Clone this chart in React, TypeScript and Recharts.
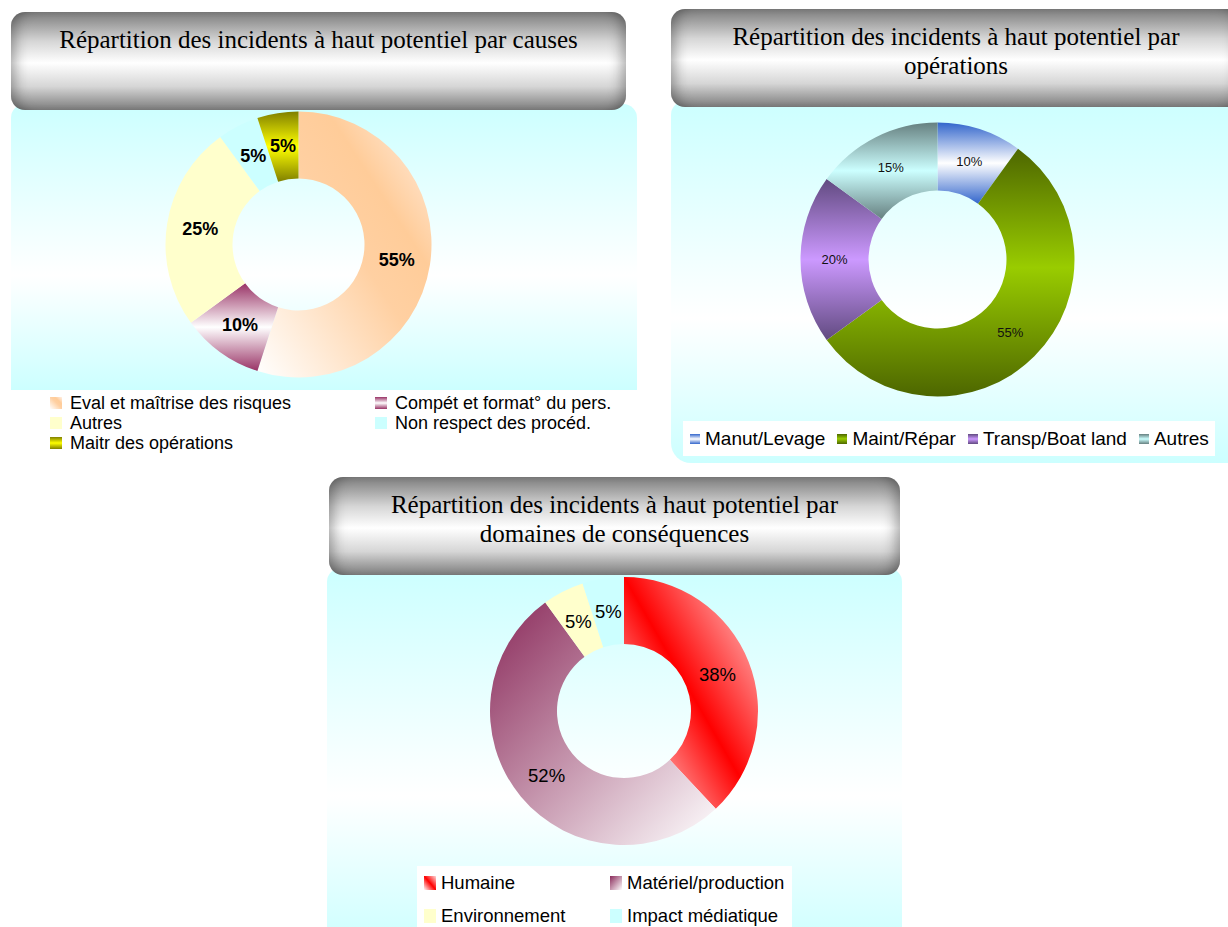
import React from "react";
import { Cell, Pie, PieChart } from "recharts";

// chart 1 : causes
const causeNames = [
  "Eval et maîtrise des risques",
  "Compét et format° du pers.",
  "Autres",
  "Non respect des procéd.",
  "Maitr des opérations",
];
const causeValues = [55, 10, 25, 5, 5];

// chart 2 : opérations
const operationNames = ["Manut/Levage", "Maint/Répar", "Transp/Boat land", "Autres"];
const operationValues = [10, 55, 20, 15];

// chart 3 : domaines de conséquences
const domainNames = ["Humaine", "Matériel/production", "Environnement", "Impact médiatique"];
const domainValues = [38, 52, 5, 5];

const causeFills = ["url(#gEval)", "url(#gCompet)", "#FFFFCC", "#CCFFFF", "url(#gMaitr)"];
const operationFills = ["url(#gManut)", "url(#gMaint)", "url(#gTransp)", "url(#gAutresOp)"];
const domainFills = ["url(#gHumaine)", "url(#gMateriel)", "#FFFFCC", "#CCFFFF"];

const RAD = Math.PI / 180;
const sans = '"Liberation Sans", Arial, sans-serif';
const serif = '"Liberation Serif", "Times New Roman", serif';

const toRows = (names: string[], values: number[]) =>
  names.map((name, i) => ({ name, value: values[i] }));

const ringLabel = (fontSize: number, fontWeight: number, color: string) => (props: any) => {
  const { cx, cy, midAngle, innerRadius, outerRadius, value } = props;
  const r = (innerRadius + outerRadius) / 2;
  return (
    <text
      x={cx + r * Math.cos(-midAngle * RAD)}
      y={cy + r * Math.sin(-midAngle * RAD)}
      textAnchor="middle"
      dominantBaseline="central"
      fontFamily={sans}
      fontSize={fontSize}
      fontWeight={fontWeight}
      fill={color}
    >
      {value}%
    </text>
  );
};

const Gradients = () => (
  <svg width={0} height={0} style={{ position: "absolute" }}>
    <defs>
      <linearGradient id="gEval" x1="1" y1="0" x2="0" y2="1">
        <stop offset="0" stopColor="#FFF1E8" />
        <stop offset="0.3" stopColor="#FFCC99" />
        <stop offset="0.48" stopColor="#FFD0A2" />
        <stop offset="1" stopColor="#FFFFFF" />
      </linearGradient>
      <linearGradient id="gCompet" x1="0" y1="0" x2="0" y2="1">
        <stop offset="0" stopColor="#993366" />
        <stop offset="0.5" stopColor="#FFFFFF" />
        <stop offset="1" stopColor="#993366" />
      </linearGradient>
      <linearGradient id="gMaitr" x1="0" y1="0" x2="0" y2="1">
        <stop offset="0" stopColor="#808000" />
        <stop offset="0.5" stopColor="#FFFF00" />
        <stop offset="1" stopColor="#808000" />
      </linearGradient>
      <linearGradient id="gManut" x1="0" y1="0" x2="0" y2="1">
        <stop offset="0" stopColor="#3366CC" />
        <stop offset="0.5" stopColor="#FFFFFF" />
        <stop offset="1" stopColor="#3366CC" />
      </linearGradient>
      <linearGradient id="gMaint" x1="0" y1="0" x2="0" y2="1">
        <stop offset="0" stopColor="#4D6600" />
        <stop offset="0.48" stopColor="#99CC00" />
        <stop offset="1" stopColor="#4D6600" />
      </linearGradient>
      <linearGradient id="gTransp" x1="0" y1="0" x2="0" y2="1">
        <stop offset="0" stopColor="#614A80" />
        <stop offset="0.5" stopColor="#CC99FF" />
        <stop offset="1" stopColor="#614A80" />
      </linearGradient>
      <linearGradient id="gAutresOp" x1="0" y1="0" x2="0" y2="1">
        <stop offset="0" stopColor="#668080" />
        <stop offset="0.5" stopColor="#CCFFFF" />
        <stop offset="1" stopColor="#668080" />
      </linearGradient>
      <linearGradient id="gHumaine" x1="1" y1="0" x2="0" y2="1">
        <stop offset="0" stopColor="#FFDADA" />
        <stop offset="0.5" stopColor="#FF0000" />
        <stop offset="1" stopColor="#FFFFFF" />
      </linearGradient>
      <linearGradient id="gMateriel" x1="0" y1="0" x2="1" y2="1">
        <stop offset="0" stopColor="#8A2A5A" />
        <stop offset="1" stopColor="#FFFFFF" />
      </linearGradient>
    </defs>
  </svg>
);

const TitleBar = ({ left, top, width, lines }: { left: number; top: number; width: number; lines: string[] }) => (
  <div
    style={{
      position: "absolute",
      left,
      top,
      width,
      height: 98,
      borderRadius: 14,
      background:
        "linear-gradient(180deg, #7c7c7c 0%, #d6d6d6 30%, #ffffff 52%, #d6d6d6 76%, #7c7c7c 100%)",
      boxShadow: "inset 14px 0 14px -10px rgba(0,0,0,0.35), inset -14px 0 14px -10px rgba(0,0,0,0.35)",
      boxSizing: "border-box",
      paddingTop: 13,
      textAlign: "center",
      fontFamily: serif,
      fontSize: 25,
      lineHeight: "29px",
      color: "#000",
      zIndex: 2,
    }}
  >
    {lines.map((l) => (
      <div key={l}>{l}</div>
    ))}
  </div>
);

const Panel = ({ left, top, width, height, radius }: { left: number; top: number; width: number; height: number; radius: string }) => (
  <div
    style={{
      position: "absolute",
      left,
      top,
      width,
      height,
      borderRadius: radius,
      background: "linear-gradient(180deg, #CCFFFF 0%, #FFFFFF 60%, #CCFFFF 100%)",
      zIndex: 1,
    }}
  />
);

const Swatch = ({ fill, w, h }: { fill: string; w: number; h: number }) => (
  <svg width={w} height={h} style={{ display: "block", flex: "none" }}>
    <rect width={w} height={h} fill={fill} />
  </svg>
);

const Donut = ({
  left, top, width, height, cx, cy, inner, outer, rows, fills, label,
}: any) => (
  <div style={{ position: "absolute", left, top, zIndex: 3 }}>
    <PieChart width={width} height={height} margin={{ top: 0, right: 0, bottom: 0, left: 0 }}>
      <Pie
        data={rows}
        dataKey="value"
        nameKey="name"
        cx={cx}
        cy={cy}
        innerRadius={inner}
        outerRadius={outer}
        startAngle={90}
        endAngle={-270}
        stroke="none"
        labelLine={false}
        label={label}
        isAnimationActive={false}
      >
        {rows.map((r: any, i: number) => (
          <Cell key={r.name} fill={fills[i]} stroke="none" />
        ))}
      </Pie>
    </PieChart>
  </div>
);

export default function App() {
  const causes = toRows(causeNames, causeValues);
  const operations = toRows(operationNames, operationValues);
  const domains = toRows(domainNames, domainValues);

  return (
    <div
      style={{
        position: "absolute",
        left: 0,
        top: 0,
        width: 1228,
        height: 927,
        overflow: "hidden",
        background: "#fff",
        fontFamily: sans,
      }}
    >
      <Gradients />

      {/* causes */}
      <Panel left={11} top={104} width={626} height={286} radius="14px 14px 0 0" />
      <TitleBar left={11} top={12} width={615} lines={["Répartition des incidents à haut potentiel par causes"]} />
      <Donut
        left={11} top={104} width={626} height={286} cx={287.5} cy={140.5}
        inner={66} outer={133} rows={causes} fills={causeFills}
        label={ringLabel(18, 700, "#000")}
      />
      <div
        style={{
          position: "absolute", left: 50, top: 393, display: "grid",
          gridTemplateColumns: "325px 260px", gridAutoRows: "20px",
          fontSize: 18, lineHeight: "20px", color: "#000", zIndex: 3,
        }}
      >
        {causes.map((c, i) => (
          <div key={c.name} style={{ display: "flex", alignItems: "center", gap: 8, whiteSpace: "nowrap" }}>
            <Swatch fill={causeFills[i]} w={12} h={12} />
            <span>{c.name}</span>
          </div>
        ))}
      </div>

      {/* opérations */}
      <Panel left={671} top={101} width={580} height={362} radius="14px 14px 14px 20px" />
      <TitleBar
        left={671} top={9} width={570}
        lines={["Répartition des incidents à haut potentiel par", "opérations"]}
      />
      <Donut
        left={671} top={101} width={557} height={318} cx={266.5} cy={158.5}
        inner={69} outer={137} rows={operations} fills={operationFills}
        label={ringLabel(13, 400, "#111")}
      />
      <div
        style={{
          position: "absolute", left: 683, top: 421, width: 532, height: 35,
          background: "#fff", display: "flex", alignItems: "center",
          boxSizing: "border-box", paddingLeft: 7, gap: 12,
          fontSize: 19, color: "#000", zIndex: 3, whiteSpace: "nowrap",
        }}
      >
        {operations.map((o, i) => (
          <div key={o.name} style={{ display: "flex", alignItems: "center", gap: 5 }}>
            <Swatch fill={operationFills[i]} w={10} h={10} />
            <span>{o.name}</span>
          </div>
        ))}
      </div>

      {/* domaines de conséquences */}
      <Panel left={327} top={568} width={575} height={380} radius="14px 14px 14px 14px" />
      <TitleBar
        left={329} top={477} width={571}
        lines={["Répartition des incidents à haut potentiel par", "domaines de conséquences"]}
      />
      <Donut
        left={327} top={568} width={575} height={296} cx={297} cy={143}
        inner={67} outer={134} rows={domains} fills={domainFills}
        label={ringLabel(18.5, 400, "#000")}
      />
      <div
        style={{
          position: "absolute", left: 417, top: 866, width: 375, height: 70,
          background: "#fff", display: "grid", gridTemplateColumns: "186px 189px",
          gridAutoRows: "33px", boxSizing: "border-box", paddingLeft: 7,
          fontSize: 18.5, color: "#000", zIndex: 3, whiteSpace: "nowrap",
        }}
      >
        {domains.map((d, i) => (
          <div key={d.name} style={{ display: "flex", alignItems: "center", gap: 5 }}>
            <Swatch fill={domainFills[i]} w={12} h={14} />
            <span>{d.name}</span>
          </div>
        ))}
      </div>
    </div>
  );
}
